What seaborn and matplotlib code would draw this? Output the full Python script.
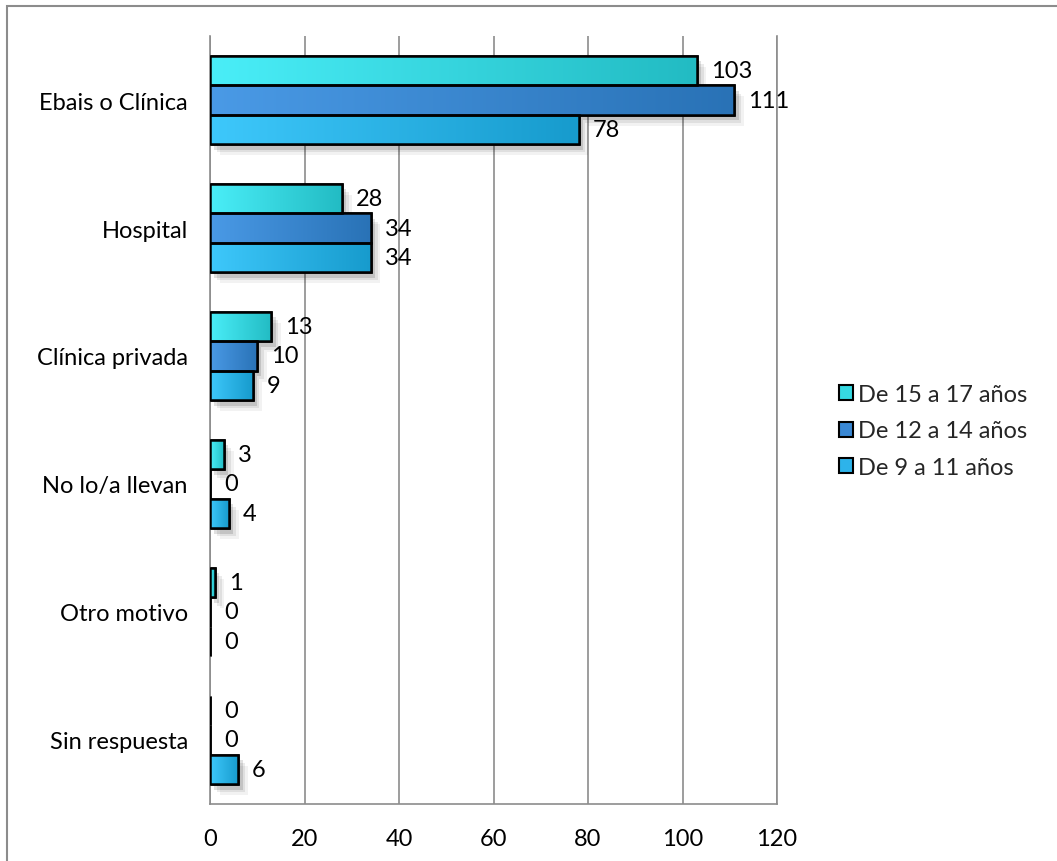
import numpy as np
import pandas as pd
import matplotlib
matplotlib.use("Agg")
import matplotlib.pyplot as plt
import matplotlib.patheffects as pe
from matplotlib.patches import Rectangle
from matplotlib.colors import LinearSegmentedColormap
import seaborn as sns

categories = ["Ebais o Clínica", "Hospital", "Clínica privada", "No lo/a llevan", "Otro motivo", "Sin respuesta"]
series_names = ["De 15 a 17 años", "De 12 a 14 años", "De 9 a 11 años"]
v_15_17 = [103, 28, 13, 3, 1, 0]
v_12_14 = [111, 34, 10, 0, 0, 0]
v_9_11 = [78, 34, 9, 4, 0, 6]
x_ticks = [0, 20, 40, 60, 80, 100, 120]

base_colors = ["#36D9E2", "#3A88D4", "#2DB3EA"]
grad_colors = [("#4AEEF8", "#22BBC3"), ("#4A9AE6", "#2972B6"), ("#3EC8FB", "#179BCD")]

sns.set_theme(style="white")
plt.rcParams['font.family'] = ['Lato', 'DejaVu Sans']

df = pd.DataFrame({
    "cat": categories * 3,
    "val": v_15_17 + v_12_14 + v_9_11,
    "grp": [series_names[0]] * 6 + [series_names[1]] * 6 + [series_names[2]] * 6,
})

W, H = 1057, 862
fig = plt.figure(figsize=(W / 100, H / 100), dpi=100)
ax = fig.add_axes([210 / W, 1 - 805 / H, (777 - 210) / W, (805 - 37) / H])

sns.barplot(data=df, y="cat", x="val", hue="grp", hue_order=series_names,
            order=categories, palette=base_colors, orient="h", width=0.69,
            edgecolor="black", linewidth=1.8, ax=ax, legend=True, saturation=1, errorbar=None)

if ax.get_legend() is not None:
    ax.get_legend().remove()

ax.set_xlim(0, 120)
ax.set_ylim(5.5, -0.5)
ax.set_xticks(x_ticks)
ax.set_xticklabels([str(t) for t in x_ticks])
ax.tick_params(axis="x", length=0, pad=17, labelsize=17, colors="black")
ax.tick_params(axis="y", length=0, pad=16, labelsize=17, colors="black")
ax.set_xlabel("")
ax.set_ylabel("")
ax.grid(axis="x", color="#8C8C8C", linewidth=1.2)
ax.set_axisbelow(True)
ax.spines["top"].set_visible(False)
for s in ["left", "bottom", "right"]:
    ax.spines[s].set_color("#8C8C8C")
    ax.spines[s].set_linewidth(1.2)

shadow = [pe.SimplePatchShadow(offset=(o, -o - 1), shadow_rgbFace="#000000", alpha=a)
          for o, a in [(7, 0.05), (5, 0.08), (3, 0.12)]] + [pe.Normal()]

grad = np.linspace(0, 1, 256).reshape(1, -1)
for i, cont in enumerate(ax.containers):
    cmap = LinearSegmentedColormap.from_list(f"g{i}", list(grad_colors[i]))
    for bar in cont:
        x, y = bar.get_x(), bar.get_y()
        w, h = bar.get_width(), bar.get_height()
        if w > 0:
            bar.set_path_effects(shadow)
            im = ax.imshow(grad, cmap=cmap, aspect="auto", extent=[x, x + w, y + h, y], zorder=2.5,
                           interpolation="bicubic")
            im.set_clip_path(bar)
        ax.add_patch(Rectangle((x, y), w, h, fill=False, edgecolor="black", linewidth=1.8, zorder=2.6))
    ax.bar_label(cont, labels=[str(int(v)) for v in cont.datavalues], padding=10, fontsize=17, color="black")

ax.set_xlim(0, 120)
ax.set_ylim(5.5, -0.5)

leg_handles = [Rectangle((0, 0), 1, 1, facecolor=base_colors[i], edgecolor="black", linewidth=1.5) for i in range(3)]
fig.legend(leg_handles, series_names, loc="center left", bbox_to_anchor=(827 / W, 1 - 432 / H),
           frameon=False, fontsize=17, handlelength=0.6, handleheight=0.6, handletextpad=0.2,
           labelspacing=0.65, borderpad=0)

fig.add_artist(Rectangle((7 / W, -0.05), 1.2, 1 - 7 / H + 0.05, transform=fig.transFigure,
                         fill=False, edgecolor="#8C8C8C", linewidth=1.5))

fig.savefig("out.png", dpi=100)
